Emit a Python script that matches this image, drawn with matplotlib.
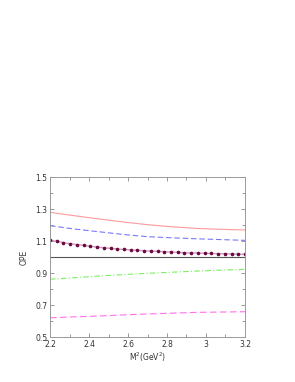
import numpy as np
import matplotlib
matplotlib.use("Agg")
import matplotlib.pyplot as plt
from matplotlib.ticker import MultipleLocator

# Data
x_lines = [2.2, 2.325, 2.45, 2.575, 2.7, 2.825, 2.95, 3.075, 3.2]
red = [1.279, 1.258, 1.238, 1.219, 1.202, 1.189, 1.179, 1.173, 1.169]
blue = [1.196, 1.175, 1.158, 1.141, 1.127, 1.120, 1.114, 1.109, 1.104]
green = [0.861, 0.871, 0.881, 0.890, 0.898, 0.905, 0.912, 0.918, 0.923]
magenta = [0.620, 0.626, 0.631, 0.638, 0.644, 0.649, 0.654, 0.656, 0.658]
x_dots = np.linspace(2.2, 3.2, 30)
dots = [1.106, 1.098, 1.090, 1.083, 1.078, 1.073, 1.067, 1.062, 1.058, 1.054,
        1.050, 1.047, 1.044, 1.042, 1.039, 1.037, 1.035, 1.033, 1.031, 1.029,
        1.027, 1.026, 1.025, 1.023, 1.022, 1.021, 1.020, 1.019, 1.018, 1.017]
ref_level = 1.0

xticks = [2.2, 2.4, 2.6, 2.8, 3.0, 3.2]
xticklabels = ["2.2", "2.4", "2.6", "2.8", "3", "3.2"]
yticks = [0.5, 0.7, 0.9, 1.1, 1.3, 1.5]
yticklabels = ["0.5", "0.7", "0.9", "1.1", "1.3", "1.5"]

fig = plt.figure(figsize=(2.95, 3.82), dpi=100)
ax = fig.add_axes([0.1695, 0.1178, 0.661, 0.4188])

ax.plot(x_lines, red, color="#ff9a9a", lw=0.8, solid_capstyle="butt")
ax.plot(x_lines, blue, color="#7878ff", lw=0.8, dashes=(5, 2.5))
ax.plot([2.2, 3.2], [ref_level, ref_level], color="#555555", lw=0.8)
ax.plot(x_dots, dots, color="#d49ab8", lw=1.0, marker="o", ms=1.6,
        mfc="#6a0a40", mec="#6a0a40")
ax.plot(x_lines, green, color="#7cf060", lw=0.8, dashes=(5, 2, 1, 2))
ax.plot(x_lines, magenta, color="#ff70e6", lw=0.8, dashes=(6, 3))

ax.set_xlim(2.2, 3.2)
ax.set_ylim(0.5, 1.5)
ax.set_xticks(xticks)
ax.set_xticklabels(xticklabels)
ax.set_yticks(yticks)
ax.set_yticklabels(yticklabels)
ax.xaxis.set_minor_locator(MultipleLocator(0.1))
ax.yaxis.set_minor_locator(MultipleLocator(0.1))
ax.tick_params(which="both", direction="in", top=True, right=True,
               labelsize=5.5, colors="#888888", labelcolor="#333333",
               width=0.6, pad=2)
ax.tick_params(which="major", length=3)
ax.tick_params(which="minor", length=2)
for s in ax.spines.values():
    s.set_color("#999999")
    s.set_linewidth(0.7)

ax.set_xlabel(r"M$^2$(GeV$^2$)", fontsize=5.5, color="#333333", labelpad=1)
ax.set_ylabel("OPE", fontsize=5.5, color="#333333", labelpad=5)

fig.savefig("out.png", dpi=100)
